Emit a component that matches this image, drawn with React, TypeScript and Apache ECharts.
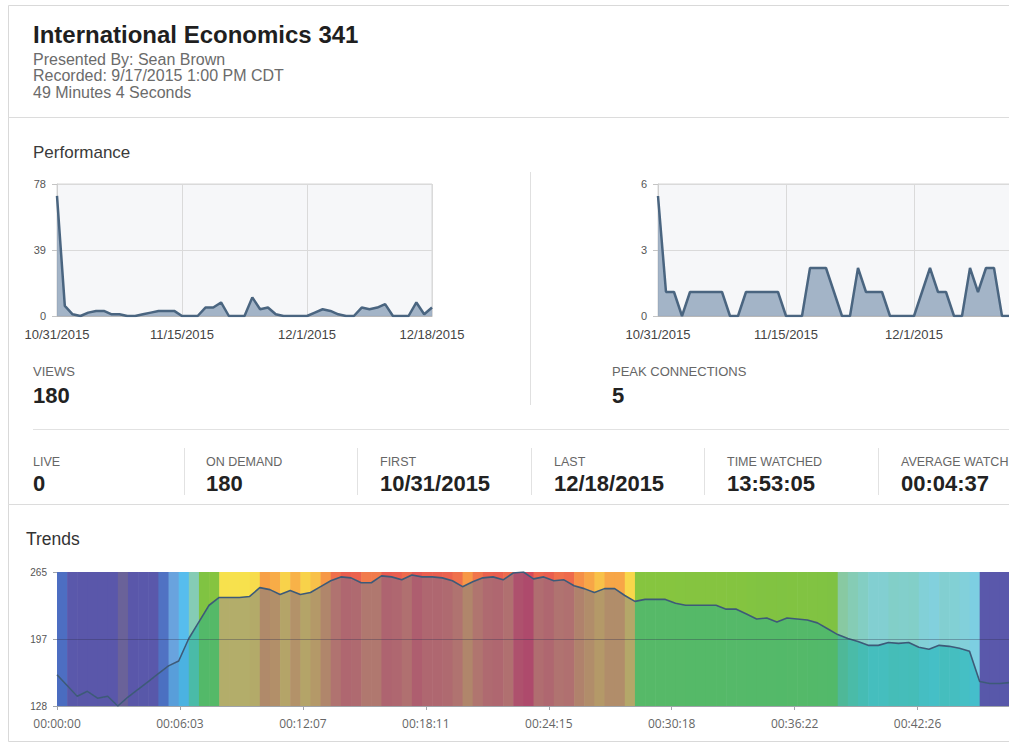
import React, { useEffect, useRef } from 'react';
import * as echarts from 'echarts';

// ---------- data ----------
const perfTickLabels = ['10/31/2015', '11/15/2015', '12/1/2015', '12/18/2015'];
// one value per day, 10/31/2015 .. 12/18/2015
const viewsByDay = [71, 6, 1, 0, 2, 3, 3, 1, 1, 0, 0, 1, 2, 3, 3, 3, 0, 0, 0, 5, 5, 8, 0, 0, 0, 11, 4, 5, 1, 0, 0, 0, 0, 2, 4, 3, 1, 0, 0, 5, 4, 5, 7, 0, 0, 0, 8, 1, 5];
const peakByDay = [5, 1, 1, 0, 1, 1, 1, 1, 1, 0, 0, 1, 1, 1, 1, 1, 0, 0, 0, 2, 2, 2, 1, 0, 0, 2, 1, 1, 1, 0, 0, 0, 0, 1, 2, 1, 1, 0, 0, 2, 1, 2, 2, 0, 0, 1, 1, 0, 0];
const VIEWS_MAX = 78;
const PEAK_MAX = 5.5;

// audience over the 49:04 recording, one sample every 30 s
const TREND_STEP = 30;
const TREND_END = 2944;
const TREND_MIN = 128;
const TREND_MAX = 265;
const trendTickValues = [128, 196.5, 265];
const trendValues = [
  160, 149, 138, 143, 136, 138, 128, 137, 145, 153,
  161, 169, 174, 197, 214, 231, 239, 239, 239, 240,
  249, 247, 242, 246, 242, 244, 250, 256, 260, 259,
  254, 254, 261, 260, 257, 262, 260, 260, 259, 256,
  250, 255, 259, 260, 257, 264, 265,
  258, 260, 256, 257, 251, 248, 244, 248, 248, 241,
  235, 237, 237, 237, 233, 231, 231, 231, 231, 227,
  227, 222, 217, 218, 214, 218, 217, 216, 213, 207,
  201, 197, 194, 190, 190, 193, 192, 193, 188, 186,
  190, 189, 187, 184, 153, 151, 151,
  152, 153, 153, 152, 152,
];

const header = {
  title: 'International Economics 341',
  lines: ['Presented By: Sean Brown', 'Recorded: 9/17/2015 1:00 PM CDT', '49 Minutes 4 Seconds'],
};
const statLabels = ['LIVE', 'ON DEMAND', 'FIRST', 'LAST', 'TIME WATCHED', 'AVERAGE WATCH'];
const statValues = ['0', '180', '10/31/2015', '12/18/2015', '13:53:05', '00:04:37'];

// ---------- styles ----------
const SANS = '"Liberation Sans", Arial, Helvetica, sans-serif';
const OPEN = '"Open Sans", "Noto Sans", sans-serif';
const CANVAS_W = 1100;

// value -> [above-line colour, below-line colour]
const trendPalette: [number, string, string][] = [
  [128, '#6a6299', '#676096'],
  [134, '#5a57aa', '#5957a8'],
  [155, '#5a58ab', '#5858aa'],
  [160, '#4d6ec2', '#4a6cc0'],
  [165, '#5b82c9', '#4f80c6'],
  [170, '#6cabe3', '#5aa6df'],
  [175, '#52c2ef', '#47b5e2'],
  [185, '#82d0e0', '#45bfc8'],
  [193, '#82cfc8', '#45bdb8'],
  [201, '#88c9a2', '#4eb898'],
  [205, '#7ec243', '#52b96a'],
  [237, '#86c53f', '#56b968'],
  [238, '#f6e64e', '#b2b06a'],
  [242, '#f8d24a', '#b4a468'],
  [245, '#f8b848', '#b49468'],
  [249, '#f7a046', '#b08a6a'],
  [253, '#f2804a', '#b07a6e'],
  [257, '#ee6a4c', '#b07070'],
  [261, '#e85a50', '#ae6470'],
  [265, '#d84858', '#ae4a6c'],
];

function hexRgb(h: string): number[] {
  const n = parseInt(h.slice(1), 16);
  return [(n >> 16) & 255, (n >> 8) & 255, n & 255];
}
function paletteColor(v: number, which: 1 | 2): string {
  const p = trendPalette;
  if (v <= p[0][0]) return p[0][which];
  for (let k = 1; k < p.length; k++) {
    if (v <= p[k][0]) {
      const a = hexRgb(p[k - 1][which]);
      const b = hexRgb(p[k][which]);
      const f = (v - p[k - 1][0]) / (p[k][0] - p[k - 1][0]);
      const c = a.map((x, j) => Math.round(x + (b[j] - x) * f));
      return `rgb(${c[0]},${c[1]},${c[2]})`;
    }
  }
  return p[p.length - 1][which];
}

function fmtTime(s: number): string {
  const t = Math.floor(s + 1e-6);
  const h = Math.floor(t / 3600);
  const m = Math.floor((t % 3600) / 60);
  const sec = t % 60;
  const p = (x: number) => String(x).padStart(2, '0');
  return `${p(h)}:${p(m)}:${p(sec)}`;
}

function txt(x: number, y: number, text: string, size: number, color: string, weight = 'normal', family = SANS) {
  return {
    type: 'text', x, y, silent: true, z: 10,
    style: {
      text, fill: color, fontSize: size, fontWeight: weight, fontFamily: family,
      textAlign: 'left', textVerticalAlign: 'middle', align: 'left', verticalAlign: 'middle',
    },
  };
}
function hline(x1: number, x2: number, y: number, color: string) {
  return { type: 'line', silent: true, z: 5, shape: { x1, y1: y, x2, y2: y }, style: { stroke: color, lineWidth: 1 } };
}
function vline(x: number, y1: number, y2: number, color: string) {
  return { type: 'line', silent: true, z: 5, shape: { x1: x, y1, x2: x, y2 }, style: { stroke: color, lineWidth: 1 } };
}

function perfAxes(gridIndex: number, max: number, interval: number, fmtY: (v: number) => string) {
  const x = {
    type: 'value', gridIndex, min: 0, max: 48, interval: 16,
    axisLine: { show: true, lineStyle: { color: '#b8b8b8' } },
    axisTick: { show: false },
    splitLine: { show: true, lineStyle: { color: '#dadada' } },
    axisLabel: {
      margin: 12, fontSize: 13, color: '#444', fontFamily: SANS,
      formatter: (v: number) => perfTickLabels[Math.round(v / 16)] ?? '',
    },
  };
  const y = {
    type: 'value', gridIndex, min: 0, max, interval,
    axisLine: { show: true, lineStyle: { color: '#cfcfcf' } },
    axisTick: { show: true, length: 5, lineStyle: { color: '#c4c4c4' } },
    splitLine: { show: true, lineStyle: { color: '#dadada' } },
    axisLabel: { margin: 11, fontSize: 11, color: '#555', fontFamily: SANS, formatter: fmtY },
  };
  return { x, y };
}

function perfSeries(axisIndex: number, values: number[]) {
  return {
    type: 'line', xAxisIndex: axisIndex, yAxisIndex: axisIndex,
    data: values.map((v, i) => [i, v]),
    showSymbol: false, symbol: 'none',
    lineStyle: { color: '#4a6580', width: 2.5 },
    areaStyle: { color: '#8ea3ba', opacity: 0.8 },
    z: 3,
  };
}

export default function App() {
  const ref = useRef<HTMLDivElement>(null);

  useEffect(() => {
    if (!ref.current) return;
    const chart = echarts.init(ref.current, undefined, { renderer: 'svg' });

    const a0 = perfAxes(0, VIEWS_MAX, VIEWS_MAX / 2, (v) => String(Math.round(v)));
    const a1 = perfAxes(1, PEAK_MAX, PEAK_MAX / 2, (v) => String(Math.round(v)));

    const trendData = trendValues.map((v, i) => [
      i * TREND_STEP,
      v,
      i + 1 < trendValues.length ? (i + 1) * TREND_STEP : TREND_END,
      i + 1 < trendValues.length ? trendValues[i + 1] : v,
    ]);

    const statCols = [33, 206, 380, 554, 727, 901];
    const graphics: any[] = [
      { type: 'rect', silent: true, z: 1, shape: { x: 8.5, y: 5.5, width: 1100, height: 736 }, style: { fill: 'none', stroke: '#d9d9d9', lineWidth: 1 } },
      txt(33, 34, header.title, 24, '#1f1f1f', 'bold'),
      txt(33, 59, header.lines[0], 16, '#6b6b6b'),
      txt(33, 75.5, header.lines[1], 16, '#6b6b6b'),
      txt(33, 92, header.lines[2], 16, '#6b6b6b'),
      hline(8, CANVAS_W, 117.5, '#dcdcdc'),
      txt(33, 152, 'Performance', 17, '#3a3a3a'),
      vline(530.5, 172, 405, '#e0e0e0'),
      txt(33, 371, 'VIEWS', 13, '#666'),
      txt(33, 395, '180', 22, '#222', 'bold'),
      txt(612, 371, 'PEAK CONNECTIONS', 13, '#666'),
      txt(612, 395, '5', 22, '#222', 'bold'),
      hline(33, CANVAS_W, 429.5, '#e2e2e2'),
      hline(8, CANVAS_W, 504.5, '#dcdcdc'),
      txt(26, 539, 'Trends', 17.5, '#333'),
    ];
    [184.5, 357.5, 531.5, 704.5, 878.5].forEach((x) => graphics.push(vline(x, 448, 495, '#e2e2e2')));
    statLabels.forEach((s, k) => graphics.push(txt(statCols[k], 462, s, 12.5, '#666')));
    statValues.forEach((s, k) => graphics.push(txt(statCols[k], 483, s, 22, '#222', 'bold')));

    chart.setOption({
      animation: false,
      backgroundColor: '#ffffff',
      grid: [
        { left: 57, top: 184, width: 375, height: 132, show: true, backgroundColor: '#f6f7f9', borderColor: '#d6d6d6', borderWidth: 1 },
        { left: 658, top: 184, width: 384, height: 132, show: true, backgroundColor: '#f6f7f9', borderColor: '#d6d6d6', borderWidth: 1 },
        { left: 57, top: 572, width: 995, height: 134, show: false },
      ],
      xAxis: [
        a0.x,
        a1.x,
        {
          type: 'value', gridIndex: 2, min: 0, max: TREND_END, interval: 363.75,
          axisLine: { show: true, lineStyle: { color: '#a0a4aa' } },
          axisTick: { show: true, length: 4, lineStyle: { color: '#a0a4aa' } },
          splitLine: { show: false },
          axisLabel: { margin: 11, fontSize: 12, color: '#666', fontFamily: OPEN, formatter: (v: number) => fmtTime(v) },
        },
      ],
      yAxis: [
        a0.y,
        a1.y,
        {
          type: 'value', gridIndex: 2, min: TREND_MIN, max: TREND_MAX,
          axisLine: { show: false },
          axisTick: { show: true, length: 4, customValues: trendTickValues, lineStyle: { color: '#a0a4aa' } },
          splitLine: { show: false },
          axisLabel: { margin: 10, fontSize: 10, color: '#555', fontFamily: SANS, customValues: trendTickValues, formatter: (v: number) => String(Math.round(v)) },
        },
      ],
      series: [
        perfSeries(0, viewsByDay),
        perfSeries(1, peakByDay),
        {
          type: 'custom', xAxisIndex: 2, yAxisIndex: 2,
          dimensions: ['t', 'v', 't1', 'v1'],
          encode: { x: 0, y: 1 },
          data: trendData,
          silent: true,
          z: 1,
          renderItem: (_params: any, api: any) => {
            const t0 = api.value(0), v0 = api.value(1), t1 = api.value(2), v1 = api.value(3);
            const p0 = api.coord([t0, v0]);
            const p1 = api.coord([t1, v1]);
            const yTop = api.coord([t0, TREND_MAX])[1];
            const yBot = api.coord([t0, TREND_MIN])[1];
            const x0 = p0[0];
            const x1 = p1[0] + 0.6;
            return {
              type: 'group',
              children: [
                { type: 'polygon', shape: { points: [[x0, yTop], [x1, yTop], [x1, p1[1]], [x0, p0[1]]] }, style: { fill: paletteColor(v0, 1) } },
                { type: 'polygon', shape: { points: [[x0, p0[1]], [x1, p1[1]], [x1, yBot], [x0, yBot]] }, style: { fill: paletteColor(v0, 2) } },
              ],
            };
          },
        },
        {
          type: 'line', xAxisIndex: 2, yAxisIndex: 2,
          data: trendValues.map((v, i) => [i * TREND_STEP, v]),
          showSymbol: false, symbol: 'none',
          lineStyle: { color: '#3d5a78', width: 1.6 },
          z: 4,
          markLine: {
            silent: true, symbol: 'none', label: { show: false },
            lineStyle: { color: 'rgba(50,50,80,0.35)', width: 1, type: 'solid' },
            data: [{ yAxis: trendTickValues[1] }],
          },
        },
      ],
      graphic: { elements: graphics },
    });

    return () => chart.dispose();
  }, []);

  return (
    <div style={{ position: 'absolute', left: 0, top: 0, width: 1009, height: 743, overflow: 'hidden', background: '#fff' }}>
      <div ref={ref} style={{ width: CANVAS_W, height: 743 }} />
    </div>
  );
}
